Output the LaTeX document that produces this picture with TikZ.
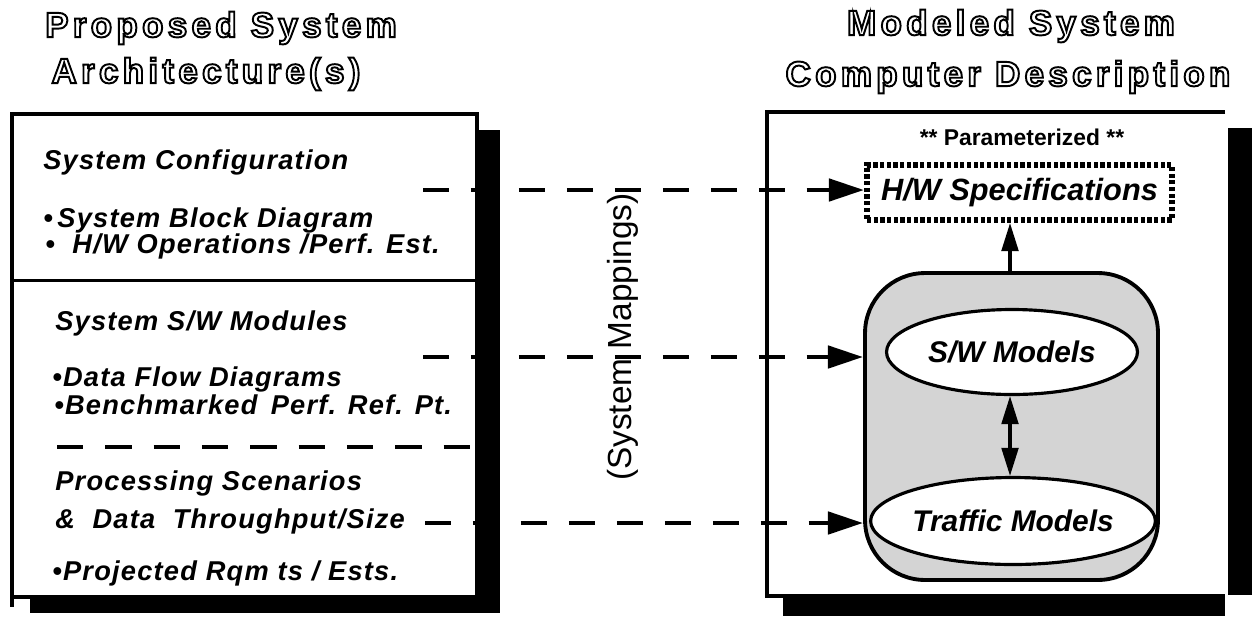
\documentclass[tikz,border=0pt]{standalone}
\usepackage{fontspec}
\setmainfont{Liberation Sans}
\newfontfamily\ttlfont[LetterSpace=12]{Liberation Sans}
\newfontfamily\bodyfont[LetterSpace=4.5]{Liberation Sans}
\newcommand{\hollow}[1]{\special{pdf:literal direct 1 Tr 1.1 w}#1\special{pdf:literal direct 0 Tr 0.4 w}}
\usetikzlibrary{shapes.geometric,arrows.meta}
\tikzset{
  txt/.style={anchor=base west,inner sep=0pt,font=\bodyfont\fontsize{15.5}{19}\selectfont\bfseries\itshape},
  ttl/.style={inner sep=0pt,font=\ttlfont\fontsize{20}{24}\selectfont\bfseries},
  mapline/.style={line width=2.8pt,dash pattern=on 14.8pt off 12.5pt,-{Triangle[length=20pt,width=12.5pt]}},
  modarrow/.style={line width=1.8pt,-{Triangle[length=16pt,width=9.5pt]}},
  model/.style={ellipse,draw,line width=1.8pt,fill=white,inner sep=0pt,font=\fontsize{17}{20}\selectfont\bfseries\itshape}
}
\begin{document}
\begin{tikzpicture}[x=0.02cm,y=-0.02cm]
    \useasboundingbox (0,0) rectangle (1253,616);

    \node[ttl] (t1) at (221,28) {\hollow{Proposed System}};
    \node[ttl] (t2) at (206,74) {\hollow{Architecture(s)}};
    \node[ttl] (t3) at (1011,26) {\hollow{Modeled System}};
    \node[ttl] (t4) at (1008,77) {\hollow{Computer Description}};

    \draw[line width=2.4pt] (12,114) rectangle (477,597);
    \draw[line width=2.6pt] (12,597) -- (12,607);
    \draw[line width=1.7pt] (12,280) -- (477,280);
    \draw[line width=2.8pt,dash pattern=on 15pt off 12.5pt] (57,447) -- (470,447);

    \node[txt] (c1) at (43,169) {System Configuration};
    \node[txt] (c2) at (43,227) {\textbullet\,System Block Diagram};
    \node[txt] (c3) at (45,253) {\textbullet\ \ H/W Operations /Perf. Est.};
    \node[txt] (s1) at (55,330) {System S/W Modules};
    \node[txt] (s2) at (52,386) {\textbullet Data Flow Diagrams};
    \node[txt] (s3) at (54,414) {\textbullet Benchmarked\ \,Perf. Ref. Pt.};
    \node[txt] (p1) at (55,490) {Processing Scenarios};
    \node[txt] (p2) at (55,528) {\&\ \ Data\ \ Throughput/Size};
    \node[txt] (p3) at (52,580) {\textbullet Projected Rqm ts / Ests.};

    \node[rotate=90,inner sep=0pt,font=\fontsize{19}{22}\selectfont] (map) at (623,337) {(System Mappings)};

    \draw[line width=2.4pt] (1225,112) -- (767,112) -- (767,596) -- (1225,596);
    \node[font=\fontsize{13}{15}\selectfont\bfseries] (par) at (1022,137) {** Parameterized **};
    \node[draw,line width=3.4pt,dash pattern=on 2.4pt off 1.4pt,minimum width=6.1cm,minimum height=1.1cm,inner sep=0pt,
          font=\fontsize{17.5}{20}\selectfont\bfseries\itshape] (hw) at (1019.5,192.5) {H/W Specifications};
    \node[draw,line width=2.2pt,rounded corners=1.2cm,fill=black!17,minimum width=5.86cm,minimum height=6.14cm] (mbox) at (1011.5,426.5) {};
    \node[model,minimum width=5.02cm,minimum height=1.7cm] (sw) at (1012,352) {S/W Models};
    \node[model,minimum width=4.94cm,minimum height=1.74cm] (tr) at (1013,521) {Traffic Models};
    \draw[modarrow] (mbox.north -| 1010,0) -- (hw.south -| 1010,0);
    \draw[modarrow,{Triangle[length=16pt,width=9.5pt]}-{Triangle[length=16pt,width=9.5pt]}] (sw.south -| 1010,0) -- (tr.north -| 1010,0);

    \coordinate (m1) at (423,190);
    \coordinate (m2) at (423,357);
    \coordinate (m3) at (425,523);
    \draw[mapline] (m1) -- (hw.west |- m1);
    \draw[mapline] (m2) -- (mbox.west |- m2);
    \draw[mapline] (m3) -- (mbox.west |- m3);

    \fill (478,130) rectangle (500,613);
    \fill (30,598) rectangle (500,613);
    \fill (1228,128) rectangle (1252,595);
    \fill (783,598) rectangle (1225,616);
\end{tikzpicture}
\end{document}
